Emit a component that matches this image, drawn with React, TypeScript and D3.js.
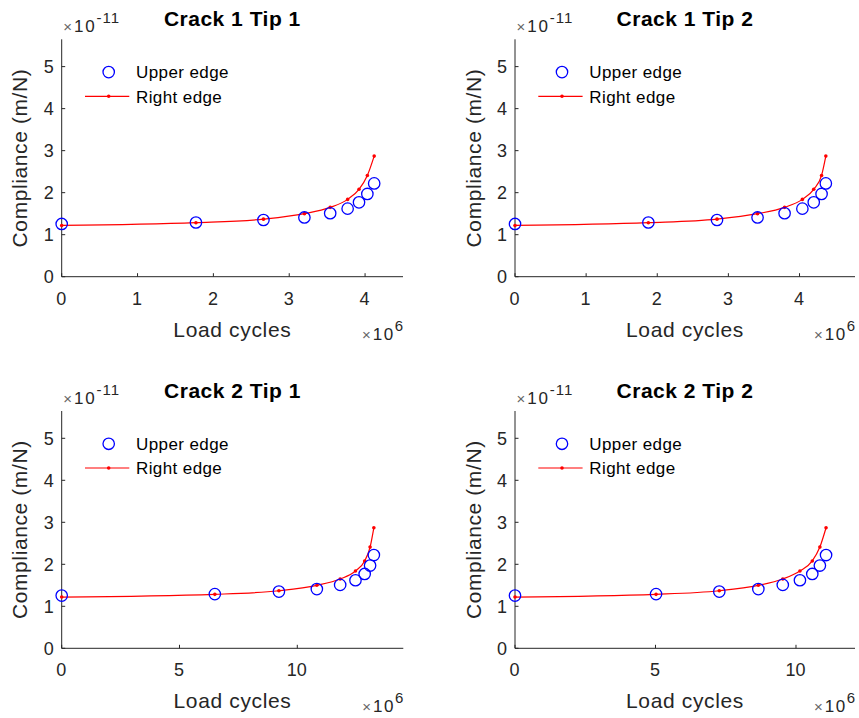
import React from "react";
import * as d3 from "d3";

// Compliance values (×1e-11 m/N), shared by all crack tips
const upperEdge = [1.255, 1.29, 1.35, 1.41, 1.51, 1.62, 1.77, 1.97, 2.22];
const rightEdge = [1.22, 1.285, 1.37, 1.5, 1.65, 1.84, 2.08, 2.41, 2.87];

// Load cycles (×1e6) per crack tip
const cyclesC1T1 = [0, 1.77, 2.66, 3.2, 3.54, 3.77, 3.92, 4.03, 4.12];
const cyclesC1T2 = [0, 1.875, 2.84, 3.41, 3.79, 4.04, 4.2, 4.31, 4.37];
const cyclesC2T1 = [0, 6.5, 9.22, 10.83, 11.82, 12.47, 12.86, 13.09, 13.25];
const cyclesC2T2 = [0, 5.02, 7.27, 8.66, 9.53, 10.14, 10.58, 10.85, 11.07];

const titles = ["Crack 1 Tip 1", "Crack 1 Tip 2", "Crack 2 Tip 1", "Crack 2 Tip 2"];
const xMaxes = [4.5, 4.78, 14.5, 12.1];
const xTickSets = [[0, 1, 2, 3, 4], [0, 1, 2, 3, 4], [0, 5, 10], [0, 5, 10]];
const yTicks = [0, 1, 2, 3, 4, 5];
const yMax = 5.65;
const legendLabels = ["Upper edge", "Right edge"];
const xLabel = "Load cycles";
const yLabel = "Compliance (m/N)";
const yExponent = "-11";
const xExponent = "6";

const allCycles = [cyclesC1T1, cyclesC1T2, cyclesC2T1, cyclesC2T2];

const boxes = [
  { left: 61.7, top: 39.3, right: 403, bottom: 276.7 },
  { left: 515, top: 39.3, right: 855, bottom: 276.7 },
  { left: 61.7, top: 411, right: 403.3, bottom: 648.3 },
  { left: 515, top: 411, right: 855, bottom: 648.3 },
];

const FONT = "'Liberation Sans', Arial, Helvetica, sans-serif";
const AX = "#262626";

function Panel({ i }: { i: number }) {
  const b = boxes[i];
  const cycles = allCycles[i];
  const x = d3.scaleLinear().domain([0, xMaxes[i]]).range([b.left, b.right]);
  const y = d3.scaleLinear().domain([0, yMax]).range([b.bottom, b.top]);
  const line = d3
    .line<number>()
    .x((_, k) => x(cycles[k]))
    .y((d) => y(d))
    .curve(d3.curveMonotoneX);
  const cx = (b.left + b.right) / 2;
  const cy = (b.top + b.bottom) / 2;
  return (
    <g fontFamily={FONT}>
      {/* axes */}
      <line x1={b.left} x2={b.right} y1={b.bottom} y2={b.bottom} stroke={AX} strokeWidth={1} />
      <line x1={b.left} x2={b.left} y1={b.top} y2={b.bottom} stroke={AX} strokeWidth={1} />
      {xTickSets[i].map((t) => (
        <g key={"x" + t}>
          <line x1={x(t)} x2={x(t)} y1={b.bottom} y2={b.bottom - 3.5} stroke={AX} strokeWidth={1} />
          <text x={x(t) - 0.5} y={b.bottom + 28} fontSize={18} fill={AX} textAnchor="middle">
            {t}
          </text>
        </g>
      ))}
      {yTicks.map((t) => (
        <g key={"y" + t}>
          <line x1={b.left} x2={b.left + 3.5} y1={y(t)} y2={y(t)} stroke={AX} strokeWidth={1} />
          <text x={b.left - 8} y={y(t)} dy="0.36em" fontSize={18} fill={AX} textAnchor="end">
            {t}
          </text>
        </g>
      ))}
      {/* exponent labels */}
      <text x={b.left + 1.5} y={b.top - 7} fontSize={17} fill={AX}>
        <tspan fill="#666" fontSize={15}>×</tspan>
        <tspan dx={2} letterSpacing={1.8}>10</tspan>
        <tspan fontSize={15} dy={-9} letterSpacing={1}>{yExponent}</tspan>
      </text>
      <text x={b.right} y={b.bottom + 63.5} fontSize={17} fill={AX} textAnchor="end">
        <tspan fill="#666" fontSize={15}>×</tspan>
        <tspan dx={2} letterSpacing={1.5}>10</tspan>
        <tspan fontSize={15} dy={-9}>{xExponent}</tspan>
      </text>
      {/* axis labels */}
      <text x={cx} y={b.bottom + 60} fontSize={21} letterSpacing={0.65} fill={AX} textAnchor="middle">
        {xLabel}
      </text>
      <text
        transform={`translate(${b.left - 34.3},${cy}) rotate(-90)`}
        fontSize={21}
        letterSpacing={0.6}
        fill={AX}
        textAnchor="middle"
      >
        {yLabel}
      </text>
      {/* title */}
      <text x={cx} y={b.top - 13.5} fontSize={21} fontWeight="bold" letterSpacing={0.5} fill="#000" textAnchor="middle">
        {titles[i]}
      </text>
      {/* data */}
      <path d={line(rightEdge) || ""} fill="none" stroke="#ff0000" strokeWidth={1.2} />
      {rightEdge.map((v, k) => (
        <circle key={"r" + k} cx={x(cycles[k])} cy={y(v)} r={1.8} fill="#ff0000" />
      ))}
      {upperEdge.map((v, k) => (
        <circle key={"u" + k} cx={x(cycles[k])} cy={y(v)} r={5.7} fill="none" stroke="#0000ff" strokeWidth={1.3} />
      ))}
      {/* legend */}
      <circle cx={b.left + 47} cy={b.top + 32.8} r={5.7} fill="none" stroke="#0000ff" strokeWidth={1.3} />
      <text x={b.left + 74.3} y={b.top + 38.8} fontSize={17} letterSpacing={0.4} fill="#000">
        {legendLabels[0]}
      </text>
      <line x1={b.left + 23.3} x2={b.left + 67.6} y1={b.top + 57} y2={b.top + 57} stroke="#ff0000" strokeWidth={1.2} />
      <circle cx={b.left + 47} cy={b.top + 57} r={1.8} fill="#ff0000" />
      <text x={b.left + 74.3} y={b.top + 63.3} fontSize={17} letterSpacing={0.4} fill="#000">
        {legendLabels[1]}
      </text>
    </g>
  );
}

export default function App() {
  return (
    <svg
      width={859}
      height={718}
      style={{ position: "absolute", left: 0, top: 0, background: "#fff" }}
    >
      <rect width={859} height={718} fill="#fff" />
      {titles.map((_, i) => (
        <Panel key={i} i={i} />
      ))}
    </svg>
  );
}
